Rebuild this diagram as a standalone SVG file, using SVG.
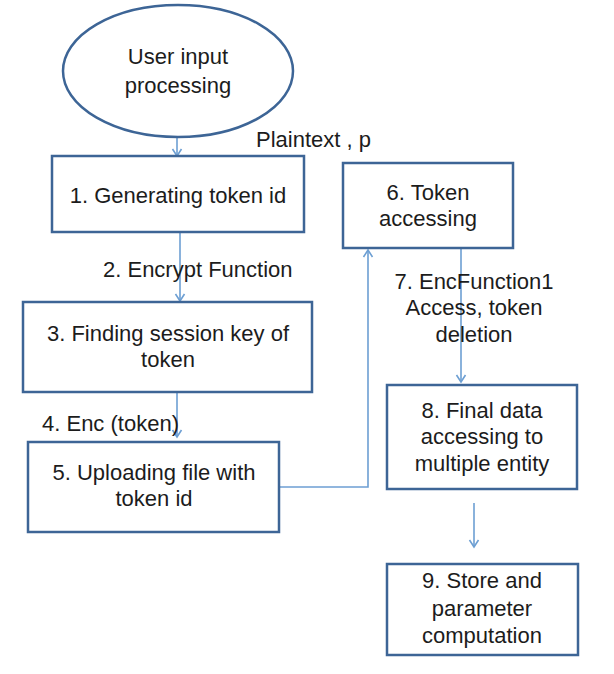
<svg xmlns="http://www.w3.org/2000/svg" width="614" height="674" viewBox="0 0 614 674">
  <style>
    .node { fill: #ffffff; stroke: #3d6596; stroke-width: 2.5; }
    .lbl { font-family: "Liberation Sans", Arial, sans-serif; font-size: 22px; fill: #1c1c1c; }
    .c { text-anchor: middle; }
    .edge { fill: none; stroke: #6d9fd3; stroke-width: 1.6; }
  </style>
  <defs>
    <marker id="arrow" markerUnits="userSpaceOnUse" markerWidth="12" markerHeight="12" viewBox="0 0 12 12" refX="10" refY="6" orient="auto">
      <path d="M3,1.5 L10,6 L3,10.5" fill="none" stroke="#6d9fd3" stroke-width="1.6"/>
    </marker>
  </defs>
  <rect width="614" height="674" fill="#ffffff"/>

  <g id="connectors">
    <line class="edge" x1="177" y1="137" x2="177" y2="156" marker-end="url(#arrow)"/>
    <line class="edge" x1="180" y1="232" x2="180" y2="301" marker-end="url(#arrow)"/>
    <line class="edge" x1="177" y1="392" x2="177" y2="437" marker-end="url(#arrow)"/>
    <polyline class="edge" points="279,487 368,487 368,250" marker-end="url(#arrow)"/>
    <line class="edge" x1="461" y1="239" x2="461" y2="382" marker-end="url(#arrow)"/>
    <line class="edge" x1="474" y1="503" x2="474" y2="547" marker-end="url(#arrow)"/>
    <text class="lbl" x="256" y="147">Plaintext , p</text>
    <text class="lbl" x="103" y="277">2. Encrypt Function</text>
    <text class="lbl" x="42" y="431">4. Enc (token)</text>
    <text class="lbl c" x="474" y="289">7. EncFunction1</text>
    <text class="lbl c" x="474" y="315">Access, token</text>
    <text class="lbl c" x="474" y="342">deletion</text>
  </g>

  <g id="user-input">
    <ellipse class="node" cx="178" cy="71" rx="115" ry="66"/>
    <text class="lbl c" x="178" y="64">User input</text>
    <text class="lbl c" x="178" y="93">processing</text>
  </g>

  <g id="step1">
    <rect class="node" x="52" y="156" width="252" height="76"/>
    <text class="lbl c" x="178" y="203">1. Generating token id</text>
  </g>

  <g id="step3">
    <rect class="node" x="23" y="302" width="289" height="90"/>
    <text class="lbl c" x="168" y="341">3. Finding session key of</text>
    <text class="lbl c" x="168" y="367">token</text>
  </g>

  <g id="step5">
    <rect class="node" x="28" y="442" width="251" height="90"/>
    <text class="lbl c" x="154" y="480">5. Uploading file with</text>
    <text class="lbl c" x="154" y="506">token id</text>
  </g>

  <g id="step6">
    <rect class="node" x="343" y="163" width="170" height="85"/>
    <text class="lbl c" x="428" y="200">6. Token</text>
    <text class="lbl c" x="428" y="226">accessing</text>
  </g>

  <g id="step8">
    <rect class="node" x="387" y="385" width="190" height="104"/>
    <text class="lbl c" x="482" y="418">8. Final data</text>
    <text class="lbl c" x="482" y="444">accessing to</text>
    <text class="lbl c" x="482" y="471">multiple entity</text>
  </g>

  <g id="step9">
    <rect class="node" x="387" y="564" width="191" height="91"/>
    <text class="lbl c" x="482" y="588">9. Store and</text>
    <text class="lbl c" x="482" y="616">parameter</text>
    <text class="lbl c" x="482" y="643">computation</text>
  </g>
</svg>
